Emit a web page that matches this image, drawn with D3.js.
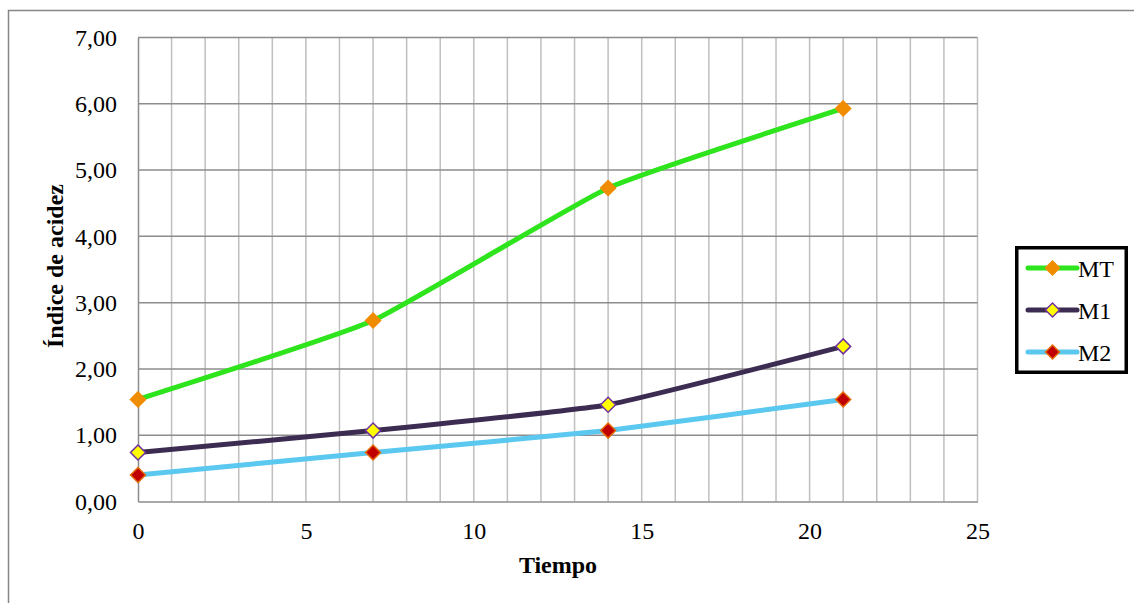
<!DOCTYPE html>
<html><head><meta charset="utf-8">
<script src="https://cdn.jsdelivr.net/npm/d3@7"></script>
<style>body{margin:0;background:#fff}svg{display:block}</style>
</head><body>
<svg id="c" width="1134" height="603"></svg>
<script>
const times = [0, 7, 14, 21];
const seriesNames = ["MT", "M1", "M2"];
const valuesMT = [1.54, 2.73, 4.73, 5.93];
const valuesM1 = [0.74, 1.07, 1.46, 2.34];
const valuesM2 = [0.40, 0.74, 1.07, 1.54];
const yTicks = [0, 1, 2, 3, 4, 5, 6, 7];
const xTicks = [0, 5, 10, 15, 20, 25];
const xTitle = "Tiempo";
const yTitle = "Índice de acidez";

const styles = {
  MT: {line: "#2ee41c", fill: "#f08c00", stroke: "#f08c00"},
  M1: {line: "#3c2c52", fill: "#ffff00", stroke: "#7030a0"},
  M2: {line: "#5bc8f0", fill: "#c00000", stroke: "#e46c0a"}
};
const data = [
  {name: "MT", values: valuesMT},
  {name: "M1", values: valuesM1},
  {name: "M2", values: valuesM2}
];

const FONT = '"Liberation Serif"';
const FS = "24px";
const svg = d3.select("#c");

svg.append("rect").attr("x", 8.5).attr("y", 10.5).attr("width", 1140).attr("height", 620)
  .attr("fill", "none").attr("stroke", "#868686").attr("stroke-width", 1.5);

const x = d3.scaleLinear().domain([0, 25]).range([138, 977.5]);
const y = d3.scaleLinear().domain([0, 7]).range([501.5, 37.5]);

const g = svg.append("g");
g.selectAll(".vg").data(d3.range(1, 26)).join("line")
  .attr("x1", d => x(d)).attr("x2", d => x(d))
  .attr("y1", y(7)).attr("y2", y(0))
  .attr("stroke", "#bfbfbf").attr("stroke-width", 1.5);
g.selectAll(".hg").data(yTicks.slice(1)).join("line")
  .attr("x1", x(0)).attr("x2", x(25))
  .attr("y1", d => y(d)).attr("y2", d => y(d))
  .attr("stroke", "#8c8c8c").attr("stroke-width", 1.5);

const yAxis = d3.axisLeft(y).tickValues(yTicks).tickSize(0).tickPadding(21)
  .tickFormat(d => d3.format(".2f")(d).replace(".", ","));
const ya = svg.append("g").attr("transform", `translate(${x(0)},0)`).call(yAxis);
ya.select(".domain").attr("stroke", "#8c8c8c").attr("stroke-width", 1.5);
ya.selectAll("text").style("font-family", FONT).style("font-size", FS).attr("fill", "#000")
  .attr("dy", "0.32em");

const xAxis = d3.axisBottom(x).tickValues(xTicks).tickSize(0).tickPadding(18);
const xa = svg.append("g").attr("transform", `translate(0,${y(0)})`).call(xAxis);
xa.select(".domain").attr("stroke", "#8c8c8c").attr("stroke-width", 1.5);
xa.selectAll("text").style("font-family", FONT).style("font-size", FS).attr("fill", "#000")
  .attr("y", 37).attr("dy", 0);

svg.append("text").attr("x", 558).attr("y", 573).attr("text-anchor", "middle")
  .style("font-family", FONT).style("font-weight", "bold").style("font-size", FS).text(xTitle);
svg.append("text").attr("transform", "translate(63,266) rotate(-90)").attr("text-anchor", "middle")
  .style("font-family", FONT).style("font-weight", "bold").style("font-size", FS).text(yTitle);

const line = d3.line().x((d, i) => x(times[i])).y(d => y(d)).curve(d3.curveCardinal.tension(0.6));
const diamond = (cx, cy, r) => `M${cx},${cy - r}L${cx + r},${cy}L${cx},${cy + r}L${cx - r},${cy}Z`;

data.forEach(s => {
  const st = styles[s.name];
  svg.append("path").attr("d", line(s.values)).attr("fill", "none")
    .attr("stroke", st.line).attr("stroke-width", 5).attr("stroke-linecap", "round");
});
data.forEach(s => {
  const st = styles[s.name];
  svg.append("g").selectAll("path").data(s.values).join("path")
    .attr("d", (d, i) => diamond(x(times[i]), y(d), 7.5))
    .attr("fill", st.fill).attr("stroke", st.stroke).attr("stroke-width", 1.5);
});

const lg = svg.append("g");
lg.append("rect").attr("x", 1016.75).attr("y", 247.75).attr("width", 109.5).attr("height", 124.5)
  .attr("fill", "#fff").attr("stroke", "#000").attr("stroke-width", 3.5);
const ly = [268, 310, 352];
seriesNames.forEach((n, i) => {
  const st = styles[n];
  lg.append("line").attr("x1", 1028).attr("x2", 1077).attr("y1", ly[i]).attr("y2", ly[i])
    .attr("stroke", st.line).attr("stroke-width", 5).attr("stroke-linecap", "round");
  lg.append("path").attr("d", diamond(1052.5, ly[i], 7)).attr("fill", st.fill)
    .attr("stroke", st.stroke).attr("stroke-width", 1.5);
  lg.append("text").attr("x", 1078).attr("y", ly[i] + 8.5)
    .style("font-family", FONT).style("font-size", FS).text(n);
});
</script>
</body></html>
